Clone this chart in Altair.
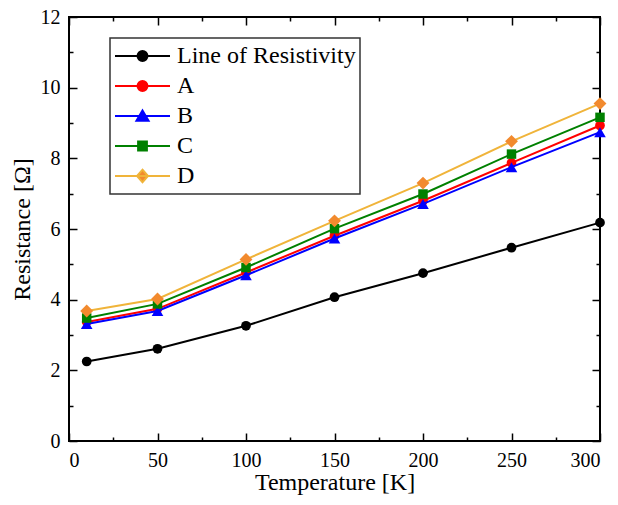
import altair as alt
import pandas as pd

temps = [10, 50, 100, 150, 200, 250, 300]
series_names = ["Line of Resistivity", "A", "B", "C", "D"]
line_res = [2.25, 2.61, 3.26, 4.07, 4.75, 5.47, 6.18]
val_a = [3.37, 3.74, 4.77, 5.81, 6.80, 7.87, 8.93]
val_b = [3.31, 3.68, 4.69, 5.73, 6.71, 7.75, 8.74]
val_c = [3.48, 3.88, 4.91, 6.01, 6.99, 8.12, 9.16]
val_d = [3.68, 4.02, 5.14, 6.23, 7.30, 8.48, 9.55]

x_major = [0, 50, 100, 150, 200, 250, 300]
x_minor = [25, 75, 125, 175, 225, 275]
y_major = [0, 2, 4, 6, 8, 10, 12]
y_minor = [1, 3, 5, 7, 9, 11]

line_colors = ["#000000", "#ff0000", "#0000ff", "#008000", "#f0b43a"]
mark_colors = ["#000000", "#ff0000", "#0000ff", "#008000", "#f28a2e"]
shapes = ["circle", "circle", "triangle-up", "square", "diamond"]
sizes = [95, 95, 135, 90, 165]

# legend symbols: line segment + marker (unit square -1..1)
legend_paths = [
    "M-1,0H1M-0.18,0A0.18,0.18 0 1,0 0.18,0A0.18,0.18 0 1,0 -0.18,0Z",
    "M-1,0H1M-0.18,0A0.18,0.18 0 1,0 0.18,0A0.18,0.18 0 1,0 -0.18,0Z",
    "M-1,0H1M0,-0.2L0.22,0.17L-0.22,0.17Z",
    "M-1,0H1M-0.16,-0.16H0.16V0.16H-0.16Z",
    "M-1,0H1M0,-0.23L0.2,0L0,0.23L-0.2,0Z",
]

vals = [line_res, val_a, val_b, val_c, val_d]
rows = []
for name, v in zip(series_names, vals):
    for t, r in zip(temps, v):
        rows.append({"T": t, "R": r, "series": name})
df = pd.DataFrame(rows)

FONT = "Liberation Serif"
W, H = 531, 424

x_scale = alt.Scale(domain=[0, 300], nice=False)
y_scale = alt.Scale(domain=[0, 12], nice=False)

common_axis = dict(grid=False, domain=False, tickColor="black", tickWidth=1.5)

ax_bottom = alt.Axis(orient="bottom", values=x_major, tickSize=8, offset=-8,
                     labelFont=FONT, labelFontSize=20, labelColor="black",
                     labelPadding=9,
                     title="Temperature [K]", titleFont=FONT,
                     titleFontSize=24, titleFontWeight="normal", titleColor="black",
                     titlePadding=0, **common_axis)
ax_bottom_minor = alt.Axis(orient="bottom", values=x_minor, tickSize=4, offset=-4,
                           labels=False, title=None, **common_axis)
ax_top = alt.Axis(orient="top", values=x_major, tickSize=8, offset=-8,
                  labels=False, title=None, **common_axis)
ax_top_minor = alt.Axis(orient="top", values=x_minor, tickSize=4, offset=-4,
                        labels=False, title=None, **common_axis)

ay_left = alt.Axis(orient="left", values=y_major, tickSize=8, offset=-8,
                   labelFont=FONT, labelFontSize=20, labelColor="black",
                   labelPadding=9, title="Resistance [Ω]", titleFont=FONT,
                   titleFontSize=24, titleFontWeight="normal", titleColor="black",
                   titlePadding=6, **common_axis)
ay_left_minor = alt.Axis(orient="left", values=y_minor, tickSize=4, offset=-4,
                         labels=False, title=None, **common_axis)
ay_right = alt.Axis(orient="right", values=y_major, tickSize=8, offset=-8,
                    labels=False, title=None, **common_axis)
ay_right_minor = alt.Axis(orient="right", values=y_minor, tickSize=4, offset=-4,
                          labels=False, title=None, **common_axis)

x_axes = [ax_bottom, ax_bottom_minor, ax_top, ax_top_minor]
y_axes = [ay_left, ay_left_minor, ay_right, ay_right_minor]

base = alt.Chart(df)
layers = []
idx = 0
for i, name in enumerate(series_names):
    sub = base.transform_filter(alt.datum.series == name)
    for kind in ["line", "point"]:
        if idx < 4:
            xenc = alt.X("T:Q", scale=x_scale, axis=x_axes[idx])
            yenc = alt.Y("R:Q", scale=y_scale, axis=y_axes[idx])
        else:
            xenc = alt.X("T:Q", scale=x_scale, axis=None)
            yenc = alt.Y("R:Q", scale=y_scale, axis=None)
        if kind == "line":
            m = sub.mark_line(color=line_colors[i], strokeWidth=2)
        else:
            m = sub.mark_point(shape=shapes[i], filled=True, color=mark_colors[i],
                               size=sizes[i], opacity=1)
        layers.append(m.encode(x=xenc, y=yenc))
        idx += 1

legend_layer = base.transform_filter("false").mark_point(
    filled=True, opacity=1, strokeWidth=2
).encode(
    x=alt.X("T:Q", scale=x_scale, axis=None),
    y=alt.Y("R:Q", scale=y_scale, axis=None),
    fill=alt.Fill("series:N", scale=alt.Scale(domain=series_names, range=mark_colors),
                  legend=alt.Legend(title=None)),
    stroke=alt.Stroke("series:N", scale=alt.Scale(domain=series_names, range=line_colors),
                      legend=alt.Legend(title=None)),
    shape=alt.Shape("series:N", scale=alt.Scale(domain=series_names, range=legend_paths),
                    legend=alt.Legend(title=None)),
)
layers.append(legend_layer)

chart = alt.layer(*layers).resolve_axis(x="independent", y="independent").properties(
    width=W, height=H,
    padding={"left": 61, "top": 9, "right": 10, "bottom": 56},
    autosize=alt.AutoSizeParams(type="none"),
).configure_view(
    stroke="black", strokeWidth=2
).configure_legend(
    orient="none", legendX=41, legendY=21, padding=4,
    strokeColor="#333333", strokeWidth=1.5, fillColor="white",
    labelFont=FONT, labelFontSize=24, labelColor="black", labelLimit=400,
    clipHeight=28, rowPadding=2, symbolSize=3025, symbolStrokeWidth=2,
    labelOffset=6, cornerRadius=0,
)

chart.save("out.html", embed_options={"renderer": "svg", "actions": False})
